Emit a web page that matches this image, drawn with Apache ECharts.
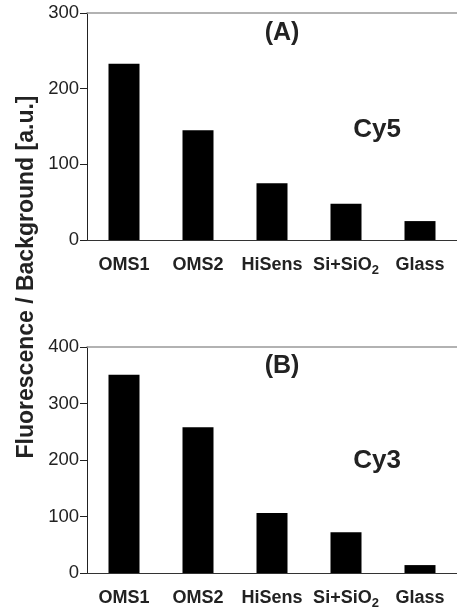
<!DOCTYPE html>
<html><head><meta charset="utf-8">
<script src="https://cdn.jsdelivr.net/npm/echarts@6/dist/echarts.min.js"></script>
<style>html,body{margin:0;padding:0;background:#fff}#c{width:457px;height:612px}</style>
</head><body><div id="c"></div>
<script>
var categories = ['OMS1', 'OMS2', 'HiSens', 'Si+SiO2', 'Glass'];
var cy5Values = [233, 145, 75, 48, 25];
var cy3Values = [351, 258, 106, 72, 14];
var cy5Ticks = [0, 100, 200, 300];
var cy3Ticks = [0, 100, 200, 300, 400];

var FONT = "'Liberation Sans', Arial, Helvetica, sans-serif";
var chart = echarts.init(document.getElementById('c'), null, {renderer: 'canvas'});

function labelFmt(v) {
  if (v === 'Si+SiO2') return '{a|Si+SiO}{b|2}';
  return '{a|' + v + '}';
}
var richLabel = {
  a: {fontFamily: FONT, fontWeight: 'bold', fontSize: 18, color: '#222', lineHeight: 20, padding: [5, 0, 5, 0]},
  b: {fontFamily: FONT, fontWeight: 'bold', fontSize: 13, color: '#222', lineHeight: 16, padding: [12, 0, 2, 0]}
};

function xBottom(gi) {
  return {
    type: 'category', gridIndex: gi, data: categories, position: 'bottom',
    axisLine: {show: true, lineStyle: {color: '#333', width: 1}},
    axisTick: {show: false},
    axisLabel: {formatter: labelFmt, rich: richLabel, margin: 15, interval: 0},
    splitLine: {show: false}
  };
}
function xTop(gi) {
  return {
    type: 'category', gridIndex: gi, data: categories, position: 'top',
    axisLine: {show: true, lineStyle: {color: '#999', width: 1.5}},
    axisTick: {show: false}, axisLabel: {show: false}, splitLine: {show: false}
  };
}
function yAx(gi, ticks) {
  return {
    type: 'value', gridIndex: gi, min: ticks[0], max: ticks[ticks.length - 1],
    interval: ticks[1] - ticks[0],
    axisLine: {show: true, lineStyle: {color: '#222', width: 1}},
    axisTick: {show: true, inside: false, length: 7, lineStyle: {color: '#222'}},
    axisLabel: {fontFamily: FONT, fontSize: 18.5, color: '#222', margin: 8},
    splitLine: {show: false}
  };
}

var option = {
  backgroundColor: '#fff',
  animation: false,
  grid: [
    {left: 87, top: 13, width: 375, height: 227, containLabel: false},
    {left: 87, top: 347, width: 375, height: 228, containLabel: false}
  ],
  xAxis: [xBottom(0), xTop(0), xBottom(1), xTop(1)],
  yAxis: [yAx(0, cy5Ticks), yAx(1, cy3Ticks)],
  series: [
    {type: 'bar', xAxisIndex: 0, yAxisIndex: 0, data: cy5Values, barWidth: 31,
     itemStyle: {color: '#000'}},
    {type: 'bar', xAxisIndex: 2, yAxisIndex: 1, data: cy3Values, barWidth: 31,
     itemStyle: {color: '#000'}}
  ],
  graphic: [
    {type: 'text', x: 27, y: 277, rotation: Math.PI / 2,
     style: {text: 'Fluorescence / Background [a.u.]', font: 'bold 23px ' + FONT,
             fill: '#222', textAlign: 'center', textVerticalAlign: 'middle'}},
    {type: 'text', x: 282, y: 33, style: {text: '(A)', font: 'bold 25px ' + FONT, fill: '#222', textAlign: 'center', textVerticalAlign: 'middle'}},
    {type: 'text', x: 377, y: 130, style: {text: 'Cy5', font: 'bold 26px ' + FONT, fill: '#222', textAlign: 'center', textVerticalAlign: 'middle'}},
    {type: 'text', x: 282, y: 366, style: {text: '(B)', font: 'bold 25px ' + FONT, fill: '#222', textAlign: 'center', textVerticalAlign: 'middle'}},
    {type: 'text', x: 377, y: 461, style: {text: 'Cy3', font: 'bold 26px ' + FONT, fill: '#222', textAlign: 'center', textVerticalAlign: 'middle'}}
  ]
};
chart.setOption(option);
</script></body></html>
